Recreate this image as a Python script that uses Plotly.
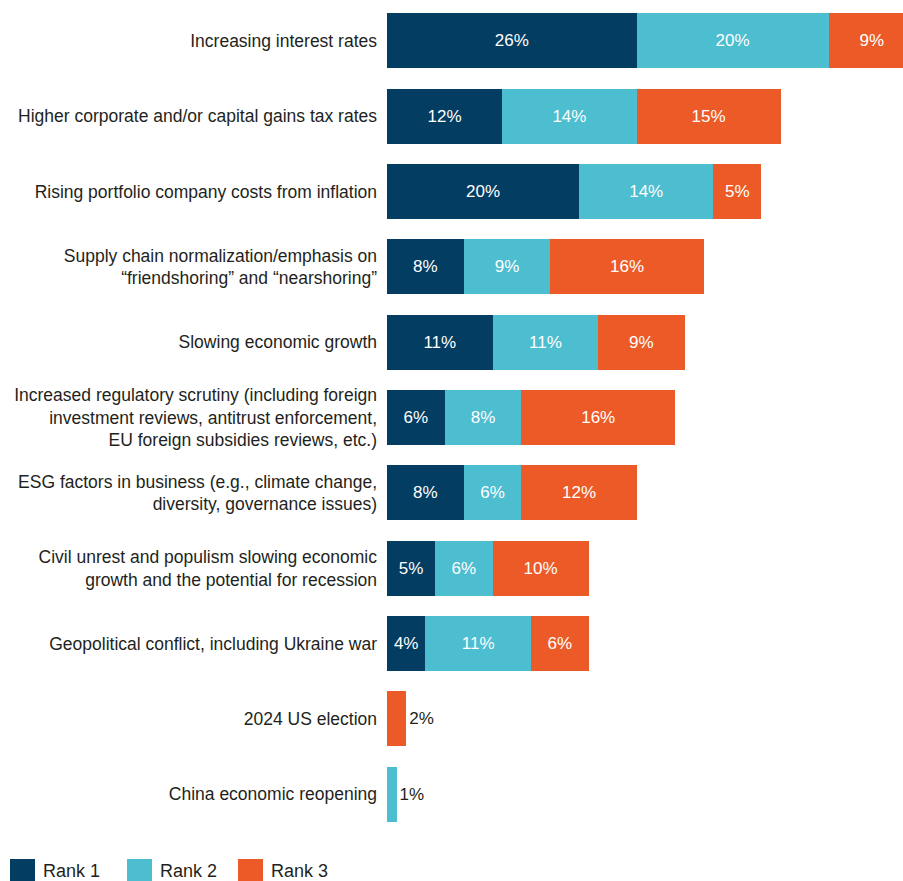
import plotly.graph_objects as go

# Factors, listed top to bottom
factors = [
    "Increasing interest rates",
    "Higher corporate and/or capital gains tax rates",
    "Rising portfolio company costs from inflation",
    "Supply chain normalization/emphasis on<br>\u201cfriendshoring\u201d and \u201cnearshoring\u201d",
    "Slowing economic growth",
    "Increased regulatory scrutiny (including foreign<br>investment reviews, antitrust enforcement,<br>EU foreign subsidies reviews, etc.)",
    "ESG factors in business (e.g., climate change,<br>diversity, governance issues)",
    "Civil unrest and populism slowing economic<br>growth and the potential for recession",
    "Geopolitical conflict, including Ukraine war",
    "2024 US election",
    "China economic reopening",
]

rank1 = [26, 12, 20, 8, 11, 6, 8, 5, 4, None, None]
rank2 = [20, 14, 14, 9, 11, 8, 6, 6, 11, None, 1]
rank3 = [9, 15, 5, 16, 9, 16, 12, 10, 6, 2, None]

series_names = ["Rank 1", "Rank 2", "Rank 3"]
series_colors = ["#033d61", "#4dbdd0", "#ec5b27"]

W, H = 903, 881
M_L, M_R, M_T, M_B = 387, 0, 3, 49
X_MAX = 53.75

FONT = "Liberation Sans, Arial, sans-serif"
TEXT_COLOR = "#231f20"
FS = 17
FS_TICK = 17.5

fig = go.Figure()
for name, vals, color in zip(series_names, [rank1, rank2, rank3], series_colors):
    fig.add_trace(go.Bar(
        y=factors,
        x=vals,
        orientation="h",
        name=name,
        marker=dict(color=color, line=dict(width=0)),
        text=[f"{v}%" if v is not None else "" for v in vals],
        textposition="auto",
        insidetextanchor="middle",
        insidetextfont=dict(color="white", size=FS, family=FONT),
        outsidetextfont=dict(color=TEXT_COLOR, size=FS, family=FONT),
        constraintext="none",
        cliponaxis=True,
        showlegend=False,
        hoverinfo="skip",
    ))

fig.update_layout(
    width=W,
    height=H,
    barmode="stack",
    bargap=0.27,
    margin=dict(l=M_L, r=M_R, t=M_T, b=M_B, pad=0),
    paper_bgcolor="white",
    plot_bgcolor="white",
    font=dict(family=FONT, size=FS, color=TEXT_COLOR),
)
fig.update_xaxes(range=[0, X_MAX], visible=False, fixedrange=True)
fig.update_yaxes(
    autorange="reversed",
    showline=False,
    showgrid=False,
    zeroline=False,
    ticks="",
    ticklabelstandoff=9,
    tickfont=dict(size=FS_TICK, color=TEXT_COLOR, family=FONT),
)

# Legend drawn as coloured squares with labels below the plot
plot_w = W - M_L - M_R
plot_h = H - M_T - M_B
legend_x = [10, 127, 238]
sq = 25
top_px = 859
for name, color, px in zip(series_names, series_colors, legend_x):
    x0 = (px - M_L) / plot_w
    x1 = (px + sq - M_L) / plot_w
    y0 = -(top_px + sq - (H - M_B)) / plot_h
    y1 = -(top_px - (H - M_B)) / plot_h
    fig.add_shape(type="rect", xref="paper", yref="paper",
                  x0=x0, x1=x1, y0=y0, y1=y1,
                  fillcolor=color, line=dict(width=0))
    fig.add_annotation(xref="paper", yref="paper",
                       x=(px + sq + 6 - M_L) / plot_w,
                       y=(y0 + y1) / 2,
                       text=name, showarrow=False,
                       xanchor="left", yanchor="middle",
                       font=dict(size=18, color=TEXT_COLOR, family=FONT))

fig.write_html("out.html")
